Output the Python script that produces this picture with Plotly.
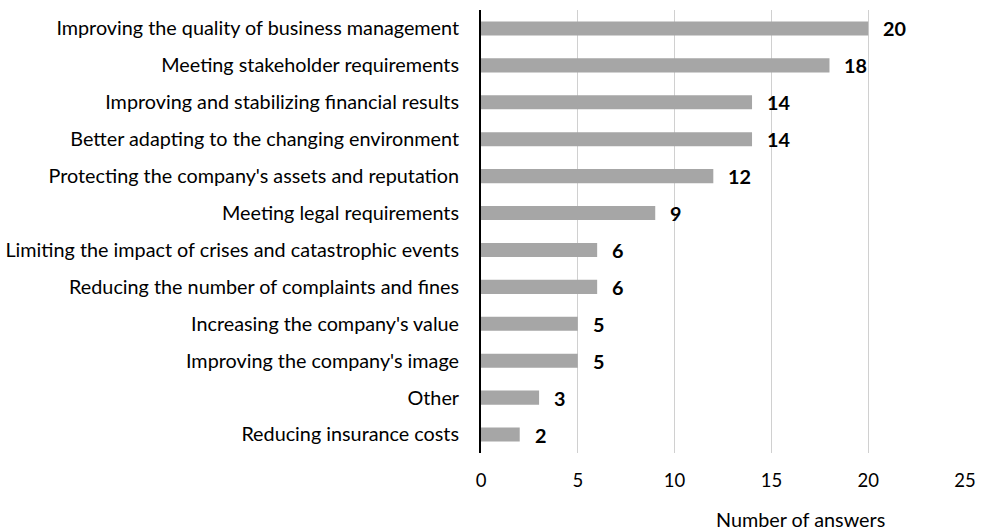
import plotly.graph_objects as go

categories = [
    "Improving the quality of business management",
    "Meeting stakeholder requirements",
    "Improving and stabilizing financial results",
    "Better adapting to the changing environment",
    "Protecting the company's assets and reputation",
    "Meeting legal requirements",
    "Limiting the impact of crises and catastrophic events",
    "Reducing the number of complaints and fines",
    "Increasing the company's value",
    "Improving the company's image",
    "Other",
    "Reducing insurance costs",
]
values = [20, 18, 14, 14, 12, 9, 6, 6, 5, 5, 3, 2]
x_ticks = [0, 5, 10, 15, 20, 25]
axis_title = "Number of answers"

FONT = "Lato"
FS = 19.8

fig = go.Figure()
fig.add_trace(go.Bar(
    x=values, y=categories, orientation="h",
    marker=dict(color="#A6A6A6", line=dict(width=0)),
    hoverinfo="skip",
))

for c, v in zip(categories, values):
    fig.add_annotation(
        x=v, y=c, text=f"<b>{v}</b>", showarrow=False,
        xanchor="left", yanchor="middle", xshift=13, yshift=0,
        font=dict(family=FONT, size=FS, color="black"),
    )

fig.add_annotation(
    x=(800 - 481) / (965 - 481), xref="paper", y=-66 / 443, yref="paper",
    text=axis_title, showarrow=False, xanchor="center", yanchor="middle",
    font=dict(family=FONT, size=FS, color="black"),
)

fig.update_layout(
    width=984, height=532,
    margin=dict(l=481, r=19, t=10, b=79),
    paper_bgcolor="white", plot_bgcolor="white",
    bargap=0.62,
    showlegend=False,
    font=dict(family=FONT, size=FS, color="black"),
)
fig.update_xaxes(
    range=[0, 25], tickvals=x_ticks, showgrid=True, gridcolor="#D0D0D0", gridwidth=1,
    zeroline=False, showline=False, ticks="", tickfont=dict(size=18.5), ticklabelstandoff=14,
    automargin=False,
)
fig.update_yaxes(
    autorange="reversed", showgrid=False, showline=True, linecolor="black", linewidth=2,
    ticks="", ticklabelstandoff=16, tickfont=dict(size=FS), automargin=False,
)

fig.write_html(
    "out.html",
    config={"displayModeBar": False},
    post_script="document.body.style.margin='0';document.body.style.overflow='hidden';",
)
